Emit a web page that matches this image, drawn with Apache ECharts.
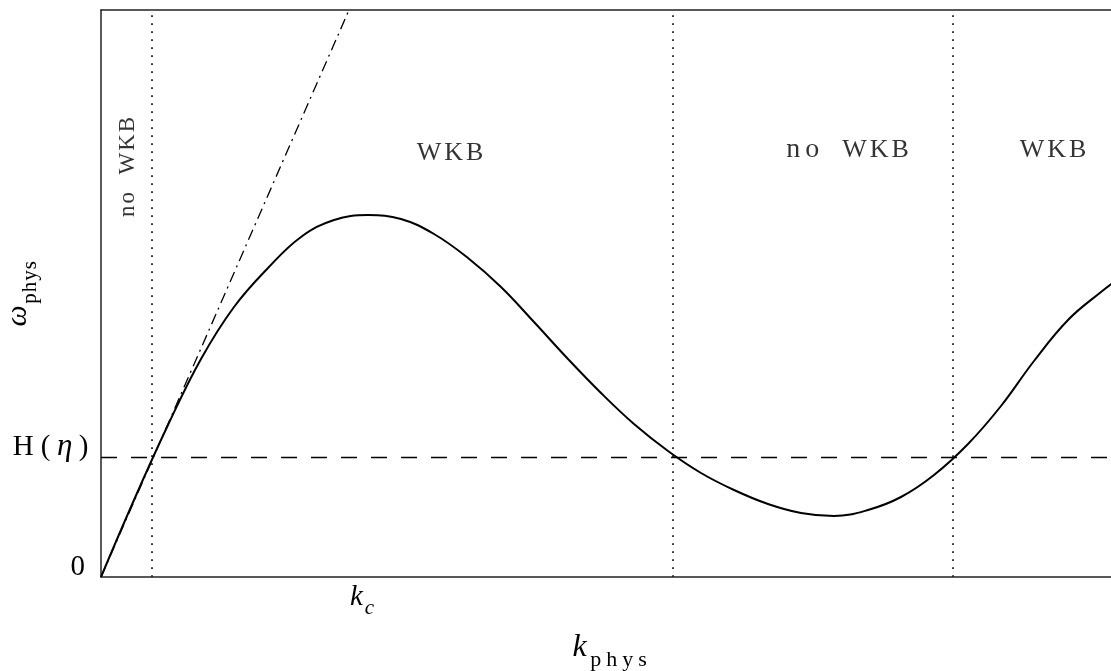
<!DOCTYPE html>
<html><head><meta charset="utf-8">
<script src="https://cdn.jsdelivr.net/npm/echarts@6/dist/echarts.min.js"></script>
<style>html,body{margin:0;padding:0;background:#fff}#c{width:1111px;height:671px}</style>
</head><body><div id="c"></div>
<script>
// dispersion curve omega_phys(k_phys), arbitrary units
const kCurve = [0, 0.33, 0.67, 1.00, 1.33, 1.67, 2.00, 2.33, 2.67, 3.00, 3.33, 3.67, 4.00, 4.33, 4.67, 5.00, 5.33, 5.67, 6.00, 6.33, 6.67, 7.00, 7.33, 7.67, 8.00, 8.33, 8.67, 9.00, 9.33, 9.67, 10.00, 10.20];
const omegaCurve = [0, 0.77, 1.52, 2.18, 2.70, 3.09, 3.40, 3.57, 3.62, 3.58, 3.43, 3.19, 2.90, 2.55, 2.18, 1.84, 1.53, 1.26, 1.04, 0.87, 0.73, 0.64, 0.61, 0.67, 0.80, 1.02, 1.33, 1.71, 2.16, 2.57, 2.85, 3.00];
// small-k tangent (dash-dot)
const tangentK = [0, 2.48];
const tangentOmega = [0, 5.67];
// Hubble rate level
const hEta = 1.20;
// turning points (dotted verticals)
const turningK = [0.51, 5.72, 8.52];
const kc = 2.61;
// region annotations
const annotText = ['no WKB', 'WKB', 'no WKB', 'WKB'];
const annotK = [0.27, 3.49, 7.46, 9.52];
const annotOmega = [4.10, 4.24, 4.27, 4.27];
const annotRotate = [90, 0, 0, 0];
// tick labels
const yTickValues = [0, hEta];
const yTickLabels = ['0', 'H(η)'];
const xTickValues = [kc];
const xTickLabels = ['k_c'];
const kMax = 10.2, omegaMax = 5.67;

const SERIF = 'Liberation Serif';
function spaced(text, style, lowerStyle) {
  return text.split('').map(function (ch) {
    const st = (lowerStyle && /[a-z]/.test(ch)) ? lowerStyle : style;
    return '{' + st + '|' + ch + '}';
  }).join('');
}
function zip(a, b) { return a.map(function (v, i) { return [v, b[i]]; }); }
function ts(o) { return Object.assign({ fontFamily: SERIF, color: '#000' }, o); }

const chart = echarts.init(document.getElementById('c'));
chart.setOption({
  animation: false,
  backgroundColor: '#fff',
  grid: { left: 101, top: 10, width: 1020, height: 567, containLabel: false, outerBoundsMode: 'none' },
  xAxis: [{
    type: 'value', min: 0, max: kMax, position: 'bottom',
    axisLine: { show: true, lineStyle: { color: '#222', width: 1.5 } },
    splitLine: { show: false }, axisTick: { show: false },
    axisLabel: {
      customValues: xTickValues, margin: 6, color: '#000',
      formatter: function (v) { return '{k|k}{c|c}'; },
      rich: {
        k: ts({ fontStyle: 'italic', fontSize: 29, verticalAlign: 'bottom', padding: [0, 2, 7, 0] }),
        c: ts({ fontStyle: 'italic', fontSize: 21, verticalAlign: 'bottom' })
      }
    },
    name: '{k|k}' + spaced('phys', 's'), nameLocation: 'middle', nameGap: 55, nameMoveOverlap: false,
    nameTextStyle: {
      rich: {
        k: ts({ fontStyle: 'italic', fontSize: 32, verticalAlign: 'bottom', padding: [0, 1, 7, 0] }),
        s: ts({ fontSize: 22, verticalAlign: 'bottom', padding: [0, 2.5, 0, 2.5] })
      }
    }
  }, {
    type: 'value', min: 0, max: kMax, position: 'top',
    axisLine: { show: true, lineStyle: { color: '#222', width: 1.5 } },
    splitLine: { show: false }, axisTick: { show: false }, axisLabel: { show: false }
  }],
  yAxis: {
    type: 'value', min: 0, max: omegaMax,
    axisLine: { show: true, lineStyle: { color: '#222', width: 1.5 } },
    splitLine: { show: false }, axisTick: { show: false },
    axisLabel: {
      customValues: yTickValues, margin: 9, color: '#000', padding: [0, 0, 20, 0],
      formatter: function (v) {
        const lab = yTickLabels[yTickValues.indexOf(v)] || '';
        if (lab === '0') return '{z|0}';
        return lab.split('').map(function (ch) { return ch === 'η' ? '{e|η}' : '{h|' + ch + '}'; }).join('');
      },
      rich: {
        z: ts({ fontSize: 29, padding: [0, 7, 0, 0] }),
        h: ts({ fontSize: 29, padding: [0, 3.5, 0, 3.5] }),
        e: ts({ fontStyle: 'italic', fontSize: 31, padding: [0, 3, 0, 3] })
      }
    },
    name: '{w|ω}' + spaced('phys', 's'), nameLocation: 'middle', nameRotate: 90, nameGap: 60, nameMoveOverlap: false,
    nameTextStyle: {
      rich: {
        w: ts({ fontStyle: 'italic', fontSize: 30, verticalAlign: 'bottom', padding: [0, 1, 8, 0] }),
        s: ts({ fontSize: 21, verticalAlign: 'bottom', padding: [0, 0.5, 0, 0.5] })
      }
    }
  },
  series: [{
    type: 'line', name: 'omega', data: zip(kCurve, omegaCurve), smooth: 0.4,
    symbol: 'none', lineStyle: { color: '#000', width: 2 }, z: 5
  }, {
    type: 'line', name: 'tangent', data: zip(tangentK, tangentOmega),
    symbol: 'none', lineStyle: { color: '#000', width: 1.3, type: [11, 5, 2, 5] }, z: 4
  }, {
    type: 'line', name: 'guides', data: [], symbol: 'none',
    markLine: {
      silent: true, symbol: 'none', label: { show: false },
      data: turningK.map(function (k) {
        return { xAxis: k, lineStyle: { color: '#222', width: 1.8, type: [1.8, 6.2] } };
      }).concat([{ yAxis: hEta, lineStyle: { color: '#000', width: 1.4, type: [16, 14] } }])
    }
  }, {
    type: 'scatter', name: 'annot', symbolSize: 0, silent: true, z: 6,
    data: annotText.map(function (t, i) {
      return {
        value: [annotK[i], annotOmega[i]],
        label: {
          show: true, position: 'inside', rotate: annotRotate[i],
          formatter: annotRotate[i] ? spaced(t.replace(' ', '  '), 'r') : spaced(t.replace(' ', '  '), 'a', 'b'),
          rich: {
            a: ts({ fontSize: 26, padding: [0, 1.5, 0, 1.5] }),
            b: ts({ fontSize: 28, padding: [0, 2.5, 0, 2.5] }),
            r: ts({ fontSize: 23, padding: [0, 1, 0, 1] })
          }
        }
      };
    })
  }]
});
</script>
</body></html>
